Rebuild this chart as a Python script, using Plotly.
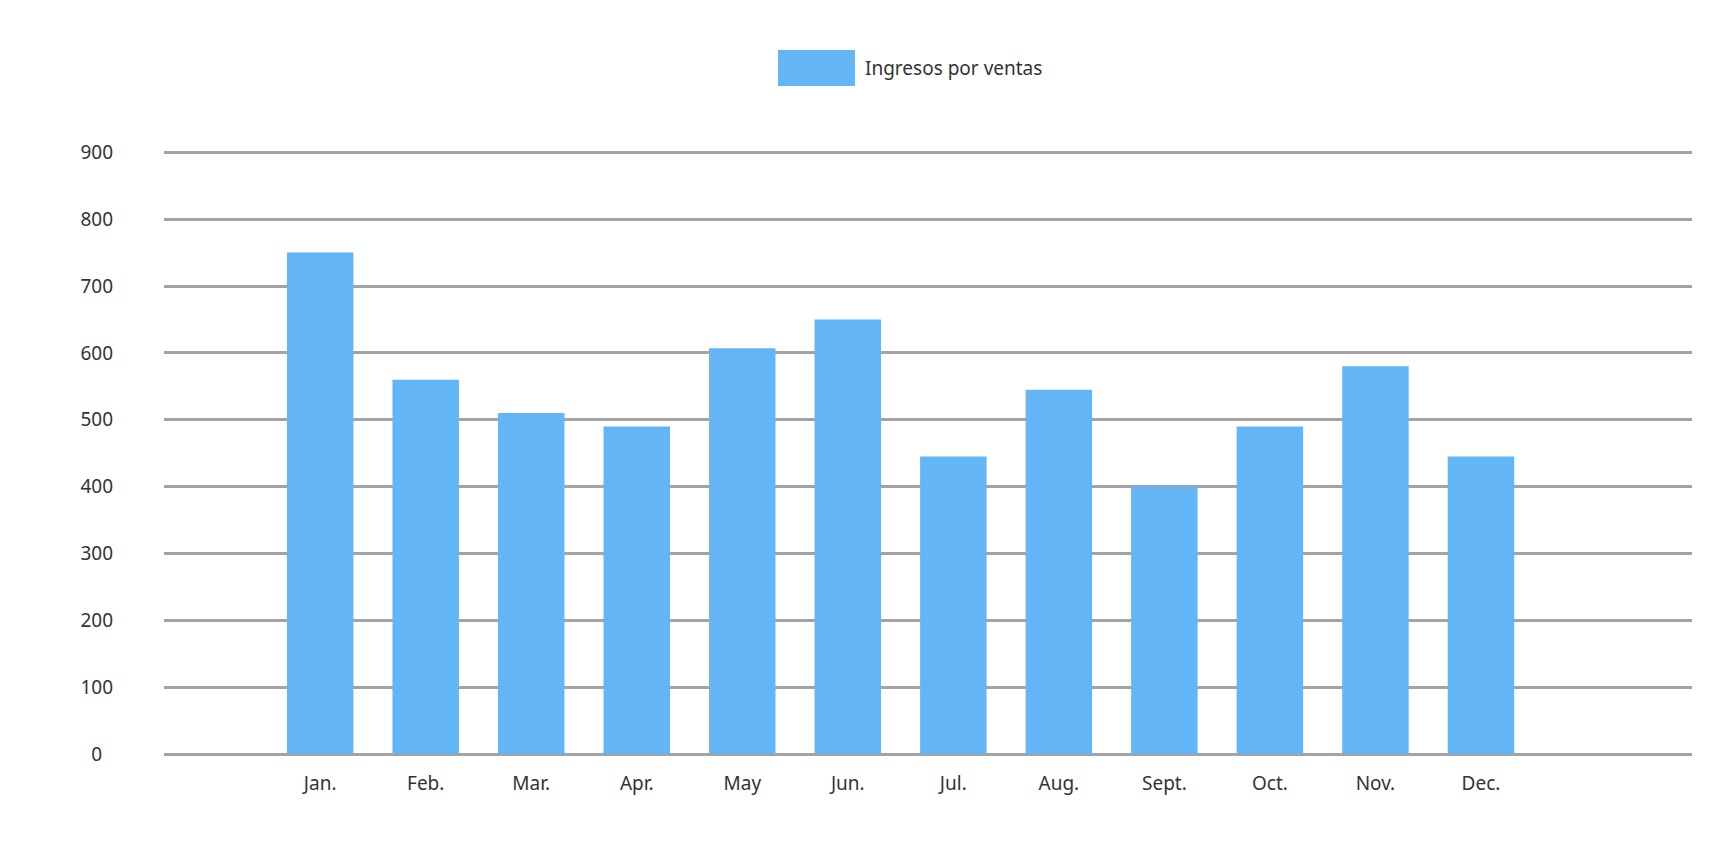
import plotly.graph_objects as go

months = ["Jan.", "Feb.", "Mar.", "Apr.", "May", "Jun.", "Jul.", "Aug.", "Sept.", "Oct.", "Nov.", "Dec."]
ingresos = [750, 560, 510, 490, 607, 650, 445, 545, 400, 490, 580, 445]
series_name = "Ingresos por ventas"
y_ticks = [0, 100, 200, 300, 400, 500, 600, 700, 800, 900]
y_ticktext = ["0\u2007"] + [str(v) for v in y_ticks[1:]]

BAR_COLOR = "#64B5F6"
GRID_COLOR = "#a3a3a3"
FONT = "Noto Sans"
FS = 19

W, H = 1734, 847
ML, MR, MT, MB = 164, 42, 149, 93
PW, PH = W - ML - MR, H - MT - MB


def px_x(x):
    return (x - ML) / PW


def px_y(y):
    return (H - MB - y) / PH


fig = go.Figure()
fig.add_trace(go.Bar(
    x=list(range(len(months))),
    y=ingresos,
    name=series_name,
    marker=dict(color=BAR_COLOR, line=dict(width=0)),
    width=0.63,
    showlegend=False,
))

# manual legend (large swatch + label)
fig.add_shape(type="rect", xref="paper", yref="paper",
              x0=px_x(778), x1=px_x(855), y0=px_y(86), y1=px_y(50),
              fillcolor=BAR_COLOR, line=dict(width=0), layer="above")
fig.add_annotation(text=series_name, xref="paper", yref="paper",
                   x=px_x(863), y=px_y(68),
                   xanchor="left", yanchor="middle", showarrow=False,
                   font=dict(family=FONT, size=FS, color="#333333"))

fig.update_layout(
    width=W, height=H,
    margin=dict(l=ML, r=MR, t=MT, b=MB),
    plot_bgcolor="white", paper_bgcolor="white",
    font=dict(family=FONT, size=FS, color="#333333"),
    xaxis=dict(
        tickmode="array",
        tickvals=list(range(len(months))),
        ticktext=months,
        range=[-1.48, 13.0],
        showgrid=False, zeroline=False, showline=False,
        ticks="outside", ticklen=12, tickcolor="rgba(0,0,0,0)",
        tickfont=dict(family=FONT, size=FS, color="#333333"),
    ),
    yaxis=dict(
        range=[0, 905],
        tickmode="array",
        tickvals=y_ticks,
        ticktext=y_ticktext,
        showgrid=True, gridcolor=GRID_COLOR, gridwidth=2.5,
        zeroline=True, zerolinecolor=GRID_COLOR, zerolinewidth=2.5,
        showline=False,
        ticklabelstandoff=50,
        tickfont=dict(family=FONT, size=FS, color="#333333"),
    ),
)

fig.write_html("out.html")
